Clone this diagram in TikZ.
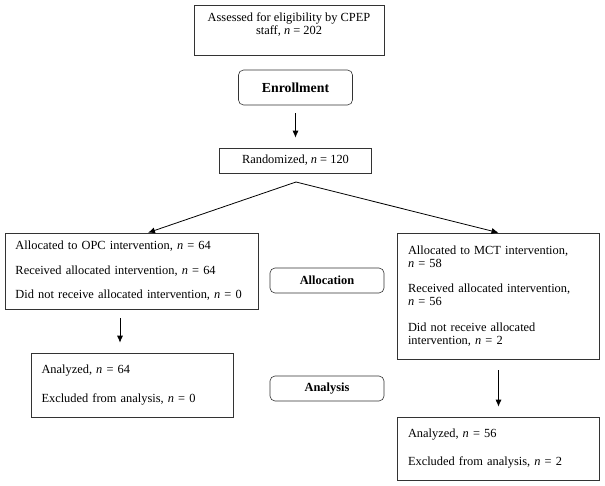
\documentclass[tikz,border=0pt]{standalone}
\usepackage{fontspec}
\setmainfont{Liberation Serif}
\usetikzlibrary{positioning, arrows.meta}
\tikzset{
	box/.style={draw=black!80, rectangle, line width=0.6pt, inner sep=0pt, font=\fontsize{12.4}{13}\selectfont},
	% left aligned boxes with the counts
	countbox/.style={box, inner xsep=10.5pt, align=left},
	stage/.style={draw=black!80, rectangle, rounded corners=5pt, line width=0.6pt, minimum width=114pt, font=\fontsize{12.4}{13}\selectfont\bfseries},
}

\begin{document}
\begin{tikzpicture}[x=1pt, y=-1pt]
		\useasboundingbox (0,0) rectangle (605,486);
		
		\node (assess) [box, minimum width=190pt, minimum height=50pt, align=center] at (289,30) {Assessed for eligibility by CPEP\\staff, \textit{n} = 202\\ \mbox{}};
		
		\node (enroll) [stage, minimum height=35pt, font=\fontsize{13.8}{14}\selectfont\bfseries] at (295.5,87.5) {Enrollment};
		
		\node (rand) [box, minimum width=152pt, minimum height=25pt] at (295.5,160.5) {Randomized, \textit{n} = 120};
		
		\coordinate (split) at (296,182);
		
		\node (opc) [countbox, text width=232pt, minimum height=76pt] at (131.5,271) {Allocated to OPC intervention, \textit{n} = 64\\[11.5pt]Received allocated intervention, \textit{n} = 64\\[11.5pt]Did not receive allocated intervention, \textit{n} = 0};
		
		\node (mct) [countbox, text width=181pt, minimum height=126pt] at (498.5,296) {Allocated to MCT intervention,\\\textit{n} = 58\\[12.5pt]Received allocated intervention,\\\textit{n} = 56\\[12.5pt]Did not receive allocated\\intervention, \textit{n} = 2};
		
		\node (alloc) [stage, minimum height=25pt] at (327,280.5) {Allocation};
		
		\node (opcres) [countbox, text width=181pt, minimum height=64pt] at (132,385) {Analyzed, \textit{n} = 64\\[15.5pt]Excluded from analysis, \textit{n} = 0};
		
		\node (analysis) [stage, minimum height=25pt] at (327,388.5) {Analysis};
		
		\node (mctres) [countbox, text width=181pt, minimum height=63pt] at (498.5,448.5) {Analyzed, \textit{n} = 56\\[15.5pt]Excluded from analysis, \textit{n} = 2};
		
		\begin{scope}[thick, black, ->, >={Latex[length=7pt, width=6pt]}]
			\draw [shorten <=8pt, shorten >=10pt] (enroll) -- (rand);
			\draw (split) -- ([xshift=16.5pt]opc.north);
			\draw (split) -- (mct.north);
			\draw [shorten <=9pt, shorten >=10pt] ([xshift=-11.5pt]opc.south) -- ([xshift=-12pt]opcres.north);
			\draw [shorten <=11pt, shorten >=10pt] (mct) -- (mctres);
		\end{scope}
	\end{tikzpicture}
\end{document}
